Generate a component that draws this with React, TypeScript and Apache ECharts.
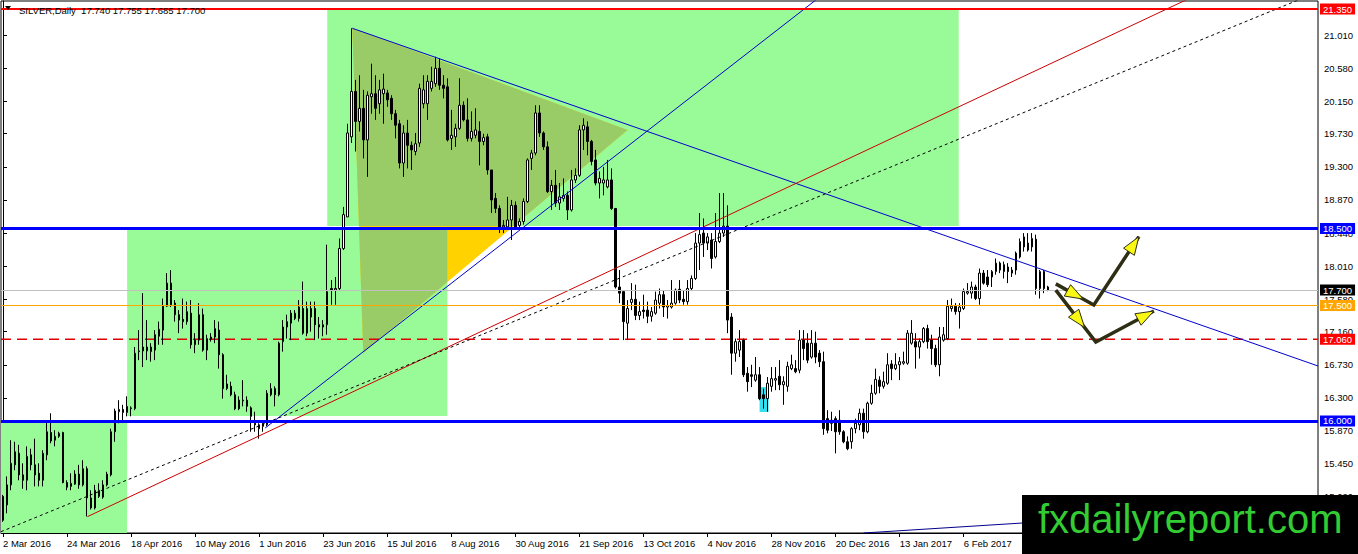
import { useEffect, useRef } from "react";
import * as echarts from "echarts";

// daily bars, index 0 = 2 Mar 2016
const opens = [
  15.02, 14.91, 15.17, 15.43, 15.58, 15.30, 15.23, 15.56, 15.43, 15.32,
  15.23, 15.56, 15.85, 15.75, 15.80, 15.85, 15.20, 15.15, 15.18, 15.31,
  15.17, 15.38, 15.00, 14.87, 15.02, 15.01, 15.17, 15.30, 15.86, 16.12,
  16.15, 16.11, 16.16, 16.16, 16.90, 16.91, 16.91, 16.90, 16.92, 17.10,
  17.18, 17.49, 17.79, 17.53, 17.38, 17.32, 17.29, 17.40, 16.99, 17.05,
  17.38, 16.92, 17.06, 17.09, 17.18, 16.86, 16.42, 16.45, 16.34, 16.27,
  16.26, 16.27, 16.17, 15.97, 15.95, 15.93, 15.95, 16.34, 16.42, 16.34,
  17.03, 17.22, 17.27, 17.33, 17.33, 17.46, 17.14, 17.46, 17.46, 17.25,
  17.22, 17.25, 17.72, 17.70, 17.72, 18.24, 18.65, 19.69, 20.28, 19.89,
  20.06, 19.65, 20.21, 20.25, 20.12, 20.25, 20.26, 20.19, 19.99, 19.86,
  19.35, 19.74, 19.58, 19.50, 19.61, 20.12, 20.12, 20.32, 20.38, 20.58,
  20.36, 20.34, 19.67, 19.69, 19.80, 20.10, 19.91, 19.67, 19.71, 19.76,
  19.63, 19.69, 19.26, 18.89, 18.76, 18.52, 18.52, 18.61, 18.80, 18.54,
  18.59, 18.85, 19.41, 19.48, 20.00, 19.74, 19.56, 18.98, 19.06, 18.83,
  18.89, 18.93, 18.74, 19.13, 19.19, 19.78, 19.82, 19.63, 19.39, 19.09,
  19.09, 19.04, 19.13, 18.76, 17.74, 17.68, 17.27, 17.54, 17.58, 17.37,
  17.44, 17.44, 17.36, 17.40, 17.53, 17.64, 17.48, 17.48, 17.53, 17.71,
  17.58, 17.55, 17.72, 17.85, 18.31, 18.44, 18.31, 18.35, 18.13, 18.33,
  18.44, 18.53, 17.35, 16.88, 16.92, 17.05, 16.62, 16.60, 16.53, 16.60,
  16.34, 16.29, 16.45, 16.53, 16.58, 16.47, 16.45, 16.68, 16.68, 16.66,
  17.05, 17.01, 16.83, 17.01, 16.88, 16.77, 16.03, 16.01, 16.03, 16.01,
  15.86, 15.73, 15.73, 15.90, 15.95, 16.10, 15.86, 16.23, 16.36, 16.53,
  16.45, 16.49, 16.74, 16.68, 16.73, 16.75, 16.75, 17.01, 17.03, 16.96,
  17.03, 17.20, 17.05, 16.94, 16.73, 17.05, 17.07, 17.46, 17.49, 17.42,
  17.46, 17.66, 17.66, 17.74, 17.59, 17.92, 17.87, 17.87, 17.94, 18.05,
  17.94, 18.00, 17.92, 17.96, 18.13, 18.26, 18.31, 18.26, 18.36, 17.72,
  17.94, 17.74,
];
const closes = [
  14.71, 15.17, 15.45, 15.60, 15.30, 15.23, 15.54, 15.43, 15.30, 15.23,
  15.58, 15.86, 15.74, 15.80, 15.84, 15.20, 15.14, 15.19, 15.31, 15.17,
  15.38, 15.00, 14.87, 15.10, 15.10, 15.17, 15.31, 15.86, 16.13, 16.15,
  16.11, 16.19, 16.17, 16.88, 16.91, 16.96, 16.96, 16.96, 17.12, 17.19,
  17.49, 17.79, 17.51, 17.38, 17.31, 17.29, 17.42, 16.99, 17.05, 17.38,
  16.92, 17.07, 17.09, 17.20, 16.86, 16.42, 16.48, 16.34, 16.16, 16.16,
  16.27, 16.19, 16.06, 15.95, 15.90, 15.97, 16.36, 16.42, 16.34, 17.01,
  17.22, 17.29, 17.40, 17.40, 17.48, 17.14, 17.46, 17.35, 17.25, 17.22,
  17.25, 17.68, 17.70, 17.72, 18.24, 18.68, 19.74, 20.28, 19.89, 20.06,
  19.65, 20.23, 20.25, 20.06, 20.30, 20.31, 20.17, 19.99, 19.84, 19.35,
  19.74, 19.58, 19.52, 19.60, 20.32, 20.30, 20.41, 20.41, 20.58, 20.36,
  20.32, 19.65, 19.71, 19.80, 20.10, 19.91, 19.67, 19.76, 19.78, 19.63,
  19.68, 19.26, 18.87, 18.76, 18.50, 18.54, 18.61, 18.80, 18.52, 18.59,
  18.85, 19.39, 19.48, 20.00, 19.74, 19.56, 18.98, 19.06, 18.83, 18.91,
  18.93, 18.74, 19.13, 19.19, 19.78, 19.84, 19.63, 19.37, 19.09, 19.15,
  19.13, 19.13, 18.76, 17.74, 17.66, 17.29, 17.46, 17.58, 17.37, 17.42,
  17.42, 17.36, 17.42, 17.57, 17.64, 17.48, 17.50, 17.53, 17.70, 17.57,
  17.55, 17.72, 17.85, 18.31, 18.42, 18.31, 18.39, 18.11, 18.33, 18.44,
  18.53, 17.31, 16.88, 17.03, 17.03, 16.60, 16.51, 16.58, 16.60, 16.29,
  16.29, 16.49, 16.55, 16.55, 16.47, 16.51, 16.71, 16.73, 16.64, 17.05,
  16.94, 16.79, 17.01, 16.83, 16.77, 15.90, 15.88, 15.97, 15.86, 15.86,
  15.73, 15.64, 15.90, 15.97, 16.10, 15.86, 16.23, 16.36, 16.54, 16.45,
  16.51, 16.73, 16.68, 16.73, 16.77, 16.77, 17.14, 17.14, 16.96, 17.03,
  17.20, 17.03, 16.94, 16.73, 17.09, 17.12, 17.49, 17.49, 17.42, 17.48,
  17.68, 17.68, 17.74, 17.59, 17.92, 17.79, 17.77, 17.94, 18.05, 17.96,
  18.03, 17.94, 17.96, 18.18, 18.33, 18.39, 18.22, 18.37, 17.72, 17.94,
  17.72, 17.70,
];
const lows = [
  14.69, 14.80, 15.10, 15.36, 15.23, 15.12, 15.10, 15.36, 15.15, 15.15,
  15.15, 15.49, 15.71, 15.67, 15.78, 15.19, 15.10, 15.10, 15.17, 15.12,
  15.15, 14.76, 14.85, 14.85, 15.00, 14.99, 15.15, 15.28, 15.73, 15.97,
  16.01, 16.06, 16.06, 16.14, 16.79, 16.70, 16.79, 16.77, 16.79, 16.99,
  16.99, 17.48, 17.48, 17.29, 17.14, 17.20, 17.25, 16.94, 16.88, 16.99,
  16.90, 16.79, 17.03, 17.01, 16.68, 16.29, 16.40, 16.32, 16.14, 16.14,
  16.19, 16.12, 15.86, 15.86, 15.77, 15.86, 15.93, 16.32, 16.19, 16.32,
  16.90, 17.07, 17.05, 17.31, 17.29, 17.12, 17.10, 17.16, 17.05, 17.07,
  17.10, 17.12, 17.51, 17.51, 17.70, 18.22, 18.65, 19.61, 19.50, 19.76,
  19.41, 19.17, 19.99, 19.91, 19.99, 19.86, 20.08, 19.91, 19.67, 19.28,
  19.17, 19.28, 19.26, 19.45, 19.56, 20.06, 19.91, 20.28, 20.34, 20.30,
  20.19, 19.63, 19.52, 19.56, 19.78, 19.89, 19.63, 19.63, 19.67, 19.32,
  19.58, 19.20, 18.70, 18.70, 18.44, 18.44, 18.48, 18.35, 18.50, 18.50,
  18.55, 18.83, 19.26, 19.45, 19.69, 19.52, 18.96, 18.74, 18.78, 18.74,
  18.85, 18.61, 18.72, 19.09, 19.17, 19.52, 19.45, 19.32, 19.06, 18.89,
  18.93, 19.02, 18.74, 17.72, 17.53, 17.05, 17.05, 17.44, 17.31, 17.31,
  17.33, 17.27, 17.29, 17.38, 17.46, 17.35, 17.33, 17.46, 17.51, 17.53,
  17.51, 17.51, 17.70, 17.83, 17.96, 18.13, 18.22, 17.98, 18.11, 18.31,
  18.39, 17.14, 16.60, 16.77, 16.83, 16.57, 16.38, 16.44, 16.51, 16.27,
  16.16, 16.12, 16.38, 16.40, 16.40, 16.21, 16.38, 16.66, 16.62, 16.62,
  16.79, 16.75, 16.81, 16.75, 16.70, 15.82, 15.84, 15.87, 15.58, 15.82,
  15.71, 15.62, 15.64, 15.84, 15.88, 15.77, 15.84, 16.21, 16.34, 16.36,
  16.42, 16.47, 16.53, 16.66, 16.53, 16.73, 16.73, 16.99, 16.68, 16.81,
  17.01, 16.94, 16.73, 16.70, 16.58, 17.03, 17.05, 17.42, 17.38, 17.20,
  17.44, 17.64, 17.59, 17.57, 17.51, 17.77, 17.74, 17.74, 17.90, 17.92,
  17.85, 17.79, 17.87, 17.90, 18.11, 18.20, 18.20, 18.20, 17.64, 17.59,
  17.66, 17.685,
];
const highs = [
  15.04, 15.28, 15.75, 15.73, 15.69, 15.45, 15.67, 15.64, 15.77, 15.45,
  15.62, 15.99, 16.10, 15.88, 15.86, 15.86, 15.23, 15.32, 15.36, 15.43,
  15.49, 15.41, 15.10, 15.17, 15.19, 15.23, 15.34, 15.90, 16.16, 16.27,
  16.21, 16.32, 16.19, 16.96, 17.18, 17.66, 17.31, 17.01, 17.18, 17.29,
  17.59, 17.92, 17.96, 17.57, 17.44, 17.59, 17.55, 17.57, 17.14, 17.53,
  17.46, 17.12, 17.14, 17.31, 17.29, 16.88, 16.60, 16.51, 16.38, 16.32,
  16.53, 16.32, 16.19, 16.12, 15.97, 16.01, 16.40, 16.49, 16.45, 17.03,
  17.31, 17.38, 17.44, 17.44, 17.57, 17.81, 17.55, 17.55, 17.55, 17.35,
  17.31, 18.29, 17.83, 17.87, 18.37, 18.78, 19.86, 21.10, 20.43, 20.49,
  20.30, 20.28, 20.64, 20.49, 20.43, 20.51, 20.30, 20.23, 20.04, 19.91,
  19.84, 19.91, 19.63, 19.74, 20.38, 20.49, 20.49, 20.60, 20.73, 20.71,
  20.49, 20.45, 20.04, 19.86, 20.45, 20.15, 20.19, 20.02, 20.06, 19.89,
  19.73, 19.73, 19.26, 18.96, 18.80, 18.61, 18.91, 18.87, 18.85, 18.63,
  18.89, 19.41, 19.52, 20.10, 20.10, 19.76, 19.63, 19.13, 19.26, 19.09,
  19.15, 18.98, 19.26, 19.28, 19.84, 19.93, 19.89, 19.65, 19.52, 19.24,
  19.30, 19.39, 19.28, 18.76, 17.96, 17.68, 17.57, 17.79, 17.77, 17.55,
  17.64, 17.55, 17.48, 17.68, 17.72, 17.70, 17.57, 17.83, 17.72, 17.83,
  17.70, 17.83, 17.89, 18.44, 18.70, 18.63, 18.44, 18.44, 18.70, 18.96,
  18.96, 18.80, 17.40, 17.07, 17.18, 17.07, 16.70, 16.73, 16.83, 16.70,
  16.42, 16.57, 16.70, 16.70, 16.79, 16.58, 16.77, 16.86, 16.79, 17.18,
  17.18, 17.14, 17.18, 17.16, 16.92, 16.90, 16.14, 16.12, 16.06, 16.14,
  15.88, 15.80, 15.92, 16.03, 16.16, 16.16, 16.25, 16.47, 16.68, 16.58,
  16.64, 16.88, 16.79, 16.88, 16.83, 16.90, 17.18, 17.31, 17.14, 17.07,
  17.22, 17.25, 17.12, 16.99, 17.22, 17.22, 17.57, 17.59, 17.53, 17.53,
  17.72, 17.79, 17.81, 17.77, 17.98, 17.96, 17.96, 17.96, 18.11, 18.07,
  18.07, 18.05, 18.00, 18.20, 18.37, 18.44, 18.44, 18.44, 18.42, 17.96,
  17.96, 17.755,
];

// one label every 16 bars
const dateLabels = [
  "2 Mar 2016", "24 Mar 2016", "18 Apr 2016", "10 May 2016", "1 Jun 2016",
  "23 Jun 2016", "15 Jul 2016", "8 Aug 2016", "30 Aug 2016", "21 Sep 2016",
  "13 Oct 2016", "4 Nov 2016", "28 Nov 2016", "20 Dec 2016", "13 Jan 2017",
  "6 Feb 2017",
];
const priceTicks = [
  21.01, 20.58, 20.15, 19.73, 19.3, 18.87, 18.44, 18.01, 17.58, 17.16,
  16.73, 16.3, 15.87, 15.45, 15.02,
];
const levelPrices = [21.35, 18.5, 17.7, 17.5, 17.06, 16.0];

// drawings, in [bar index, price]
const trendDown = [[87.25, 21.1], [328.5, 16.714]];
const trendUp = [[65.5, 15.909], [170.9, 20.168]];
const trendRed = [[21.08, 14.757], [295.5, 21.467]];
const trendDotted = [[1.75, 14.61], [321.75, 21.428]];
const trendLow = [[215, 14.545], [254.75, 14.675]];
// [x0, top price, x1, bottom price]
const greenBoxes = [
  [-0.5, 16.012, 31, 14.545],
  [31, 18.5, 111, 16.064],
  [81, 21.35, 238.75, 18.532],
];
const cyanBox = [189, 16.44, 191.25, 16.117];
const triangle = [[87.25, 21.103], [156, 19.779], [90, 16.882]];
const arrowA = [[263, 17.78], [272.5, 17.506], [283.75, 18.393]];
const arrowB = [[263, 17.7], [273, 17.025], [287.5, 17.428]];

const BARS = 329;
const Y_MIN = 14.545;
const Y_MAX = 21.454;
const FONT = '"Liberation Sans", Arial, sans-serif';

// dashed levels are drawn by a line series, the mark line only carries the label
const levelStyles = [
  { color: "#FF0000", width: 2, dashed: false, box: "#FF0000" },
  { color: "#0000FF", width: 3, dashed: false, box: "#0000FF" },
  { color: "#C0C0C0", width: 1, dashed: false, box: "#000000" },
  { color: "#FFA500", width: 1, dashed: false, box: "#FFA500" },
  { color: "#E00000", width: 1.5, dashed: true, box: "#FF0000" },
  { color: "#0000FF", width: 3, dashed: false, box: "#0000FF" },
];

function extend(pair, fromX, toX = BARS - 0.5) {
  const [a, b] = pair;
  const k = (b[1] - a[1]) / (b[0] - a[0]);
  return [
    [fromX, a[1] + k * (fromX - a[0])],
    [toX, a[1] + k * (toX - a[0])],
  ];
}

function clipAxis(poly, axis, bound, keepGreater) {
  const out = [];
  for (let i = 0; i < poly.length; i++) {
    const a = poly[i];
    const b = poly[(i + 1) % poly.length];
    const ina = keepGreater ? a[axis] >= bound : a[axis] <= bound;
    const inb = keepGreater ? b[axis] >= bound : b[axis] <= bound;
    if (ina) out.push(a);
    if (ina !== inb) {
      const t = (bound - a[axis]) / (b[axis] - a[axis]);
      out.push([a[0] + t * (b[0] - a[0]), a[1] + t * (b[1] - a[1])]);
    }
  }
  return out;
}

function clipToRect(poly, r) {
  let p = clipAxis(poly, 0, r[0], true);
  p = clipAxis(p, 0, r[2], false);
  p = clipAxis(p, 1, r[1], true);
  p = clipAxis(p, 1, r[3], false);
  return p;
}

function renderBackground(params, api) {
  const rectOf = (b) => {
    const a = api.coord([b[0], b[1]]);
    const c = api.coord([b[2], b[3]]);
    return [
      Math.min(a[0], c[0]),
      Math.min(a[1], c[1]),
      Math.max(a[0], c[0]),
      Math.max(a[1], c[1]),
    ];
  };
  const rectEl = (r, fill) => ({
    type: "rect",
    shape: { x: r[0], y: r[1], width: r[2] - r[0], height: r[3] - r[1] },
    style: { fill },
  });
  const rects = greenBoxes.map(rectOf);
  const children = rects.map((r) => rectEl(r, "#98FB98"));
  const tri = triangle.map((p) => api.coord(p));
  children.push({ type: "polygon", shape: { points: tri }, style: { fill: "#FFD200" } });
  [rects[2], rects[1]].forEach((r) => {
    const p = clipToRect(tri, r);
    if (p.length > 2) {
      children.push({ type: "polygon", shape: { points: p }, style: { fill: "#99CC66" } });
    }
  });
  children.push(rectEl(rectOf(cyanBox), "#33E0F0"));
  return { type: "group", children };
}

function arrowHead(a, b, t) {
  const dx = b[0] - a[0];
  const dy = b[1] - a[1];
  const len = Math.hypot(dx, dy);
  const ux = dx / len;
  const uy = dy / len;
  const tip = [a[0] + dx * t, a[1] + dy * t];
  const base = [tip[0] - ux * 18, tip[1] - uy * 18];
  return [
    tip,
    [base[0] - uy * 6.5, base[1] + ux * 6.5],
    [base[0] + uy * 6.5, base[1] - ux * 6.5],
  ];
}

function renderArrows(params, api) {
  const children = [];
  [arrowA, arrowB].forEach((arrow) => {
    const pts = arrow.map((p) => api.coord(p));
    children.push({
      type: "polyline",
      shape: { points: pts },
      style: { stroke: "#2E2E14", lineWidth: 3.5, fill: null },
    });
    [[pts[0], pts[1], 0.72], [pts[1], pts[2], 1]].forEach(([a, b, t]) => {
      children.push({
        type: "polygon",
        shape: { points: arrowHead(a, b, t) },
        style: { fill: "#F8F814", stroke: "#2E2E14", lineWidth: 1 },
      });
    });
  });
  return { type: "group", children };
}

function lineSeries(points, color, type = "solid", width = 1, z = 4) {
  return {
    type: "line",
    xAxisIndex: 1,
    yAxisIndex: 0,
    data: points,
    symbol: "none",
    showSymbol: false,
    silent: true,
    clip: true,
    z,
    lineStyle: { color, width, type },
  };
}

function getChartOption() {
  const candles = opens.map((o, i) => [o, closes[i], lows[i], highs[i]]);
  const categories = Array.from({ length: BARS }, (_, i) => String(i));
  const showDate = (i) => i % 16 === 0 && i / 16 < dateLabels.length;
  const last = opens.length - 1;
  const header = `SILVER,Daily  ${opens[last].toFixed(3)} ${highs[last].toFixed(3)} ${lows[last].toFixed(3)} ${closes[last].toFixed(3)}`;

  const dashedLevels = levelPrices
    .map((p, i) => ({ p, s: levelStyles[i] }))
    .filter((d) => d.s.dashed)
    .map((d) => lineSeries([[-0.5, d.p], [BARS - 0.5, d.p]], d.s.color, [10, 6], d.s.width, 2));

  return {
    animation: false,
    backgroundColor: "#FFFFFF",
    grid: {
      left: 1,
      right: 40,
      top: 1,
      bottom: 21,
      show: true,
      borderColor: "#000",
      borderWidth: 1,
    },
    xAxis: [
      {
        type: "category",
        data: categories,
        boundaryGap: true,
        axisLine: { show: true, lineStyle: { color: "#000", width: 1 } },
        axisTick: { show: true, alignWithLabel: true, interval: showDate, length: 4, lineStyle: { color: "#000" } },
        axisLabel: {
          interval: showDate,
          formatter: (v, i) => (showDate(i) ? dateLabels[i / 16] : ""),
          align: "left",
          margin: 5,
          color: "#000",
          fontSize: 9.5,
          fontFamily: FONT,
        },
        splitLine: { show: false },
      },
      { type: "value", min: -0.5, max: BARS - 0.5, show: false },
    ],
    yAxis: {
      type: "value",
      position: "right",
      min: Y_MIN,
      max: Y_MAX,
      axisLine: { show: true, lineStyle: { color: "#000", width: 1 } },
      axisTick: { show: true, length: 4, customValues: priceTicks, lineStyle: { color: "#000" } },
      axisLabel: {
        customValues: priceTicks,
        formatter: (v) => v.toFixed(3),
        margin: 6,
        color: "#000",
        fontSize: 9.5,
        fontFamily: FONT,
      },
      splitLine: { show: false },
    },
    graphic: [
      { type: "polygon", z: 100, shape: { points: [[5, 6], [11, 6], [8, 10]] }, style: { fill: "#000" } },
      {
        type: "text",
        z: 100,
        style: { text: header, x: 19, y: 10.5, verticalAlign: "middle", font: `9.5px ${FONT}`, fill: "#000" },
      },
      { type: "rect", z: 100, shape: { x: 1022, y: 495, width: 336, height: 59 }, style: { fill: "#000" } },
      {
        type: "text",
        z: 101,
        style: {
          text: "fxdailyreport.com",
          x: 1038,
          y: 519,
          verticalAlign: "middle",
          font: `40px ${FONT}`,
          fill: "#33CC33",
        },
      },
    ],
    series: [
      {
        type: "custom",
        xAxisIndex: 1,
        yAxisIndex: 0,
        data: [[0, 18]],
        renderItem: renderBackground,
        silent: true,
        clip: false,
        z: 1,
      },
      ...dashedLevels,
      {
        type: "candlestick",
        xAxisIndex: 0,
        yAxisIndex: 0,
        data: candles,
        barWidth: 2,
        z: 3,
        itemStyle: {
          color: "#FFFFFF",
          color0: "#000000",
          borderColor: "#000000",
          borderColor0: "#000000",
          borderWidth: 1,
        },
        markLine: {
          symbol: ["none", "none"],
          silent: true,
          animation: false,
          data: levelPrices.map((p, i) => ({
            yAxis: p,
            lineStyle: {
              color: levelStyles[i].dashed ? "rgba(0,0,0,0)" : levelStyles[i].color,
              width: levelStyles[i].width,
              type: "solid",
            },
            label: {
              show: true,
              position: "end",
              distance: 2,
              formatter: p.toFixed(3),
              color: "#FFFFFF",
              backgroundColor: levelStyles[i].box,
              padding: [1, 3, 0, 3],
              fontSize: 9.5,
              fontFamily: FONT,
            },
          })),
        },
      },
      lineSeries(extend(trendDown, trendDown[0][0]), "#0000CD"),
      lineSeries(extend(trendUp, trendUp[0][0]), "#0000CD"),
      lineSeries(extend(trendRed, trendRed[0][0]), "#CC0000"),
      lineSeries(extend(trendDotted, -0.5), "#000000", [3, 3]),
      lineSeries(extend(trendLow, trendLow[0][0]), "#00008B"),
      {
        type: "custom",
        xAxisIndex: 1,
        yAxisIndex: 0,
        data: [[0, 18]],
        renderItem: renderArrows,
        silent: true,
        clip: false,
        z: 5,
      },
    ],
  };
}

export default function App() {
  const chartRef = useRef(null);
  useEffect(() => {
    const chart = echarts.init(chartRef.current, null, { renderer: "svg" });
    chart.setOption(getChartOption());
    return () => {
      chart.dispose();
    };
  }, []);
  return (
    <div
      ref={chartRef}
      style={{ position: "fixed", left: 0, top: 0, width: "1358px", height: "554px" }}
    />
  );
}
